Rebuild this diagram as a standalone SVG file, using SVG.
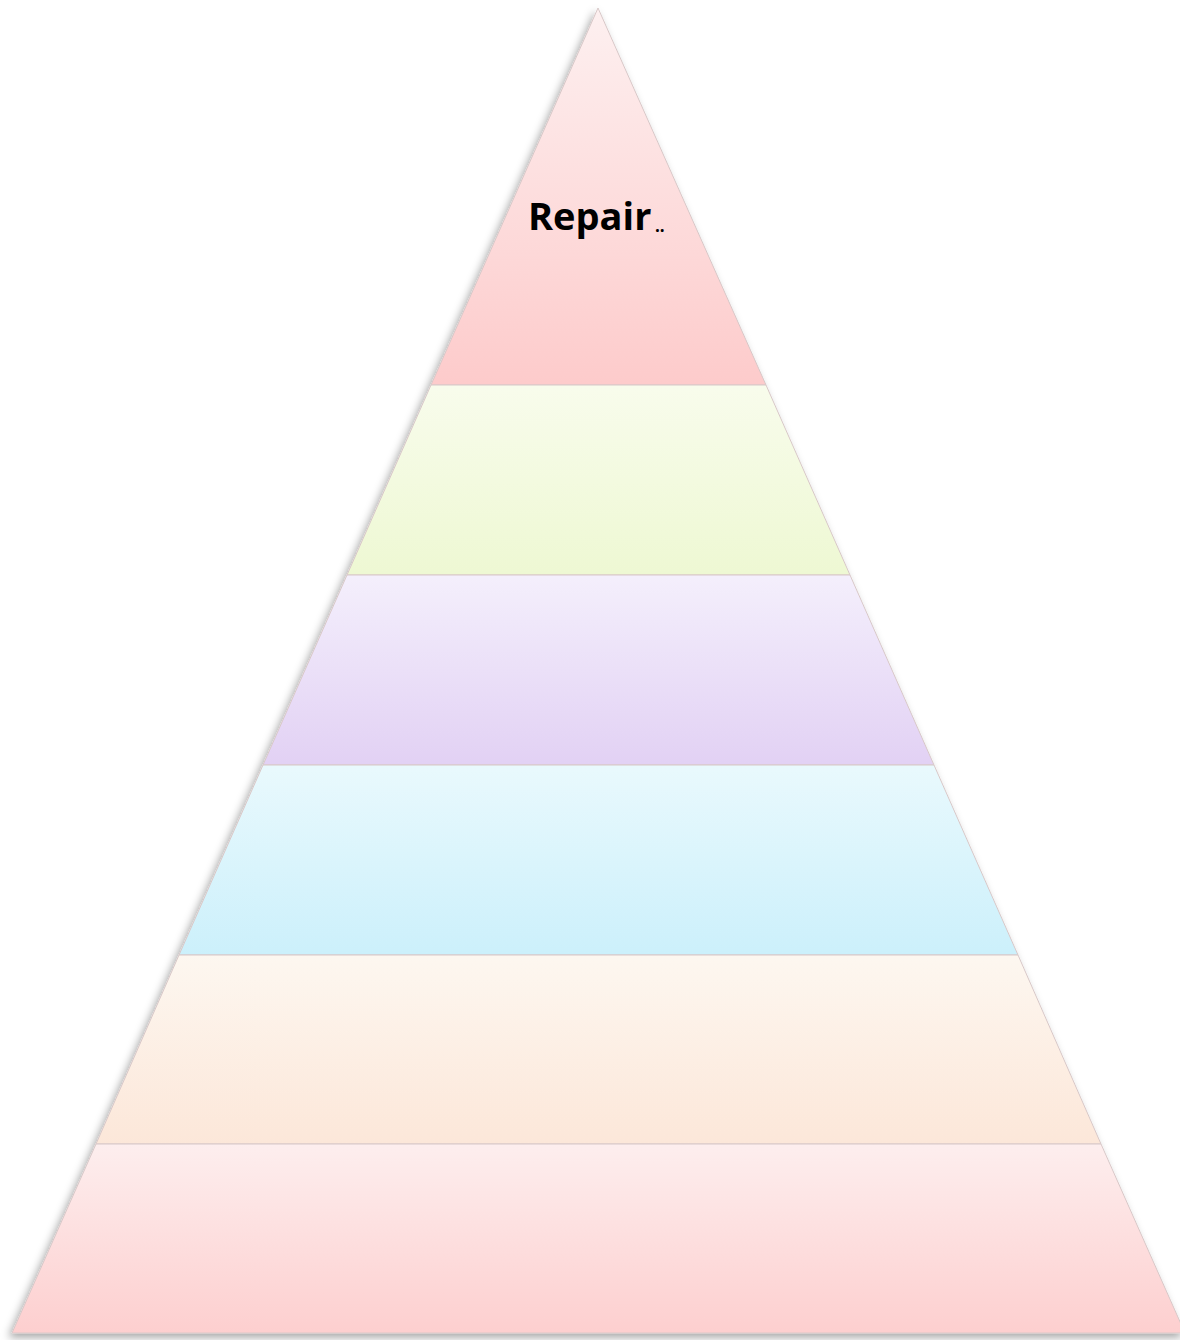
<svg xmlns="http://www.w3.org/2000/svg" width="1180" height="1340" viewBox="0 0 1180 1340">
<defs>
<linearGradient id="g1" x1="0" y1="0" x2="0" y2="1"><stop offset="0" stop-color="#fdf0f0"/><stop offset="1" stop-color="#fdcbcb"/></linearGradient>
<linearGradient id="g2" x1="0" y1="0" x2="0" y2="1"><stop offset="0" stop-color="#f8fcec"/><stop offset="1" stop-color="#eef8d3"/></linearGradient>
<linearGradient id="g3" x1="0" y1="0" x2="0" y2="1"><stop offset="0" stop-color="#f4effc"/><stop offset="1" stop-color="#e2d1f4"/></linearGradient>
<linearGradient id="g4" x1="0" y1="0" x2="0" y2="1"><stop offset="0" stop-color="#e9f9fd"/><stop offset="1" stop-color="#ccf0fb"/></linearGradient>
<linearGradient id="g5" x1="0" y1="0" x2="0" y2="1"><stop offset="0" stop-color="#fdf7f0"/><stop offset="1" stop-color="#fce7d9"/></linearGradient>
<linearGradient id="g6" x1="0" y1="0" x2="0" y2="1"><stop offset="0" stop-color="#fdeeee"/><stop offset="1" stop-color="#fdcfcf"/></linearGradient>
<filter id="sh" x="-10%" y="-10%" width="120%" height="120%"><feDropShadow dx="-3" dy="4" stdDeviation="4" flood-color="#000" flood-opacity="0.35"/></filter>
</defs>
<style>
.band{stroke:#d8c8c8;stroke-width:1}
.lbl{font-family:"Open Sans","Liberation Sans",sans-serif;font-weight:bold;fill:#000}
</style>
<g filter="url(#sh)">
<g id="level1"><polygon class="band" points="598,8 431,385 766,385" fill="url(#g1)"/></g>
<g id="level2"><polygon class="band" points="431,385 766,385 850,575 347,575" fill="url(#g2)"/></g>
<g id="level3"><polygon class="band" points="347,575 850,575 934,765 263,765" fill="url(#g3)"/></g>
<g id="level4"><polygon class="band" points="263,765 934,765 1018,955 179,955" fill="url(#g4)"/></g>
<g id="level5"><polygon class="band" points="179,955 1018,955 1101,1144 96,1144" fill="url(#g5)"/></g>
<g id="level6"><polygon class="band" points="96,1144 1101,1144 1185,1333 12,1333" fill="url(#g6)"/></g>
</g>
<text class="lbl" x="528" y="230" font-size="38">Repair</text>
<text class="lbl" x="655" y="232" font-size="17">..</text>
<g id="connectors"/>
</svg>
